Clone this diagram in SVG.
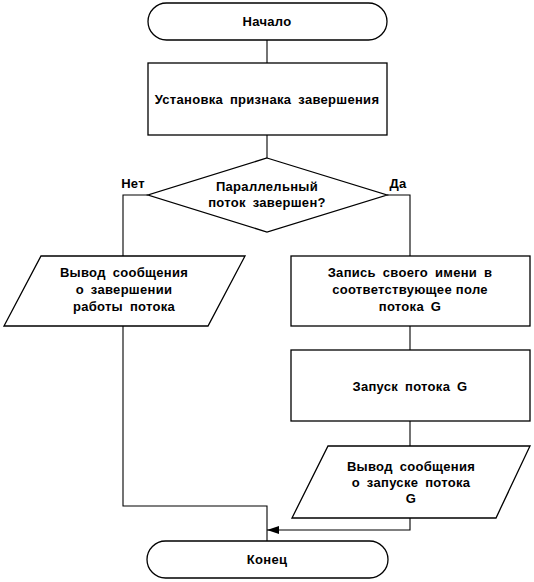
<svg xmlns="http://www.w3.org/2000/svg" width="534" height="582" viewBox="0 0 534 582">
<style>
.s{fill:#fff;stroke:#000;stroke-width:1.3}
.c{fill:none;stroke:#000;stroke-width:1.1}
text{font-family:"Liberation Sans",Arial,sans-serif;font-weight:bold;font-size:13px;letter-spacing:0.3px;text-anchor:middle;dominant-baseline:central;word-spacing:3px;fill:#000}
.n{word-spacing:0}
</style>
<defs>
<marker id="ah" markerWidth="12" markerHeight="8" refX="12" refY="4" orient="auto" markerUnits="userSpaceOnUse">
<path d="M0,0 L12,4 L0,8 Z" fill="#000"/>
</marker>
</defs>
<rect width="534" height="582" fill="#fff"/>
<g id="connectors">
<line class="c" x1="267" y1="40" x2="267" y2="63"/>
<line class="c" x1="267" y1="135" x2="267" y2="158"/>
<polyline class="c" points="148,195 123,195 123,256"/>
<polyline class="c" points="387,195 410,195 410,256"/>
<line class="c" x1="410" y1="326" x2="410" y2="350"/>
<line class="c" x1="410" y1="421" x2="410" y2="446"/>
<polyline class="c" points="123,326 123,506 267,506 267,541"/>
<polyline class="c" points="410,518 410,530 267,530" marker-end="url(#ah)"/>
<text x="133" y="183">Нет</text>
<text x="398" y="183">Да</text>
</g>
<g id="start">
<rect class="s" x="148" y="3" width="239" height="37" rx="18.5"/>
<text x="267" y="21">Начало</text>
</g>
<g id="set-flag">
<rect class="s" x="148" y="63" width="239" height="72"/>
<text x="267" y="99">Установка признака завершения</text>
</g>
<g id="decision">
<polygon class="s" points="267,158 387,195 267,232 148,195"/>
<text x="267" y="186">Параллельный</text>
<text x="267" y="202">поток завершен?</text>
</g>
<g id="output-done">
<polygon class="s" points="41,256 245,256 208,326 4,326"/>
<text x="124" y="272">Вывод сообщения</text>
<text x="124" y="289">о завершении</text>
<text x="124" y="306">работы потока</text>
</g>
<g id="write-name">
<rect class="s" x="291" y="256" width="239" height="70"/>
<text x="410" y="272">Запись своего имени в</text>
<text class="n" x="410" y="289">соответствующее поле</text>
<text x="410" y="306">потока G</text>
</g>
<g id="launch">
<rect class="s" x="291" y="350" width="239" height="71"/>
<text x="410" y="386">Запуск потока G</text>
</g>
<g id="output-launch">
<polygon class="s" points="328,446 530,446 496,518 292,518"/>
<text x="411" y="466">Вывод сообщения</text>
<text x="411" y="482">о запуске потока</text>
<text x="411" y="498">G</text>
</g>
<g id="end">
<rect class="s" x="147" y="541" width="241" height="37" rx="18.5"/>
<text x="267" y="559">Конец</text>
</g>
</svg>
